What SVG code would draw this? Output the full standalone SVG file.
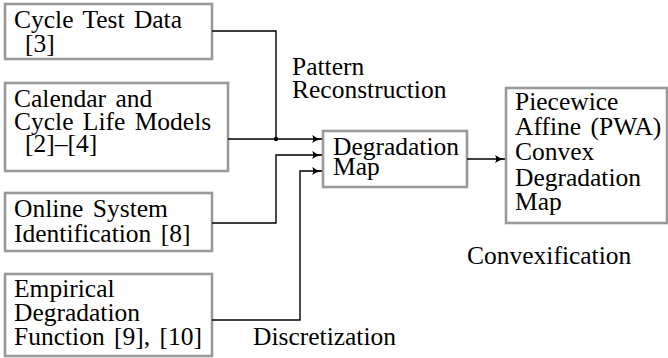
<svg xmlns="http://www.w3.org/2000/svg" width="668" height="358" viewBox="0 0 668 358">
  <style>
    .box { fill: #fff; stroke: #999; stroke-width: 2.6; }
    .lbl { font-family: "Liberation Serif", "Times New Roman", serif; font-size: 25.5px; word-spacing: 3px; fill: #000; }
    .wire { fill: none; stroke: #000; stroke-width: 1.4; }
  </style>
  <defs>
    <marker id="arr" viewBox="0 0 10 8" refX="10" refY="4" markerWidth="10" markerHeight="8" markerUnits="userSpaceOnUse" orient="auto">
      <path d="M0,0 Q4,3.2 10,4 Q4,4.8 0,8 Q2.5,4 0,0 Z" fill="#000"/>
    </marker>
  </defs>
  <rect width="668" height="358" fill="#fff"/>

  <g id="cycle-test-data">
    <rect class="box" x="5" y="4" width="207" height="55"/>
    <text class="lbl" x="14" y="28">Cycle Test Data</text>
    <text class="lbl" x="25" y="52">[3]</text>
  </g>

  <g id="calendar-cycle-models">
    <rect class="box" x="5" y="83" width="223" height="88"/>
    <text class="lbl" x="14" y="107">Calendar and</text>
    <text class="lbl" x="14" y="130">Cycle Life Models</text>
    <text class="lbl" x="25" y="152">[2]–[4]</text>
  </g>

  <g id="online-sysid">
    <rect class="box" x="5" y="193" width="207" height="58"/>
    <text class="lbl" x="14" y="217">Online System</text>
    <text class="lbl" x="14" y="242">Identification [8]</text>
  </g>

  <g id="empirical-function">
    <rect class="box" x="5" y="274" width="207" height="82"/>
    <text class="lbl" x="14" y="297">Empirical</text>
    <text class="lbl" x="14" y="321">Degradation</text>
    <text class="lbl" x="14" y="345">Function [9], [10]</text>
  </g>

  <g id="degradation-map">
    <rect class="box" x="323" y="131" width="144" height="56"/>
    <text class="lbl" x="333" y="155">Degradation</text>
    <text class="lbl" x="333" y="175">Map</text>
  </g>

  <g id="pwa-map">
    <rect class="box" x="506" y="88" width="161" height="135"/>
    <text class="lbl" x="515" y="110">Piecewice</text>
    <text class="lbl" x="515" y="135">Affine (PWA)</text>
    <text class="lbl" x="515" y="160">Convex</text>
    <text class="lbl" x="515" y="186">Degradation</text>
    <text class="lbl" x="515" y="210">Map</text>
  </g>

  <g id="connectors">
    <path class="wire" d="M212,31 H276 V139"/>
    <path class="wire" d="M228,139 H322" marker-end="url(#arr)"/>
    <circle cx="276" cy="139" r="2.2" fill="#000"/>
    <path class="wire" d="M212,223 H276 V155 H322" marker-end="url(#arr)"/>
    <path class="wire" d="M212,320 H300 V171 H322" marker-end="url(#arr)"/>
    <path class="wire" d="M467,159 H505" marker-end="url(#arr)"/>
  </g>

  <g id="edge-labels">
    <text class="lbl" x="292" y="75">Pattern</text>
    <text class="lbl" x="292" y="98">Reconstruction</text>
    <text class="lbl" x="467" y="264">Convexification</text>
    <text class="lbl" x="253" y="345">Discretization</text>
  </g>
</svg>
